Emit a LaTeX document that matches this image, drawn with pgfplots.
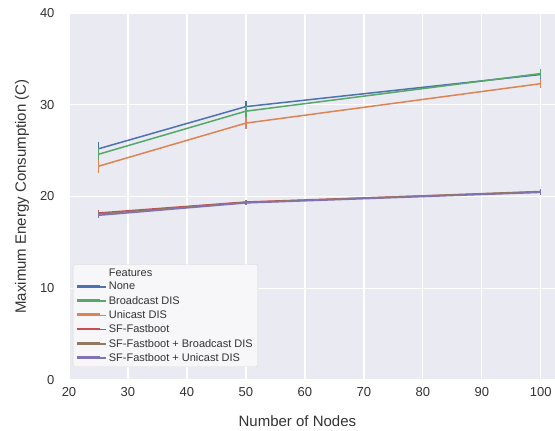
\documentclass[border=0pt]{standalone}
\usepackage{fontspec}
\setmainfont{Liberation Sans}
\usepackage{pgfplots}
\pgfplotsset{compat=1.18}
\definecolor{bg}{HTML}{EAEAF2}
\definecolor{cblue}{HTML}{4C72B0}
\definecolor{cgreen}{HTML}{55A868}
\definecolor{corange}{HTML}{DD8452}
\definecolor{cred}{HTML}{C44E52}
\definecolor{cbrown}{HTML}{937860}
\definecolor{cpurple}{HTML}{8172B3}
\begin{document}
\begin{tikzpicture}[x=1pt,y=1pt]
\begin{axis}[
  at={(0,0)}, anchor=south west, scale only axis,
  width=486pt, height=367pt,
  xmin=20, xmax=102.4, ymin=0, ymax=40,
  axis background/.style={fill=bg},
  axis line style={draw=none},
  major tick length=0pt,
  grid=major, grid style={white, line width=1.2pt},
  xtick={20,30,...,100}, ytick={0,10,...,40},
  tick label style={font=\fontsize{13}{13}\selectfont, text=black!80},
  /pgf/number format/assume math mode=true,
  xticklabel style={yshift=-4pt},
  yticklabel style={xshift=-11pt},
  xlabel={Number of Nodes},
  ylabel={Maximum Energy Consumption (C)},
  every axis x label/.style={at={(axis description cs:0.47,0)}, yshift=-41pt, anchor=center, font=\fontsize{15}{15}\selectfont, text=black!80},
  every axis y label/.style={at={(axis description cs:0,0.5)}, xshift=-47pt, rotate=90, anchor=center, font=\fontsize{15}{15}\selectfont, text=black!80},
  legend cell align=left,
  legend style={at={(4pt,13pt)}, anchor=south west, font=\fontsize{11}{12}\selectfont, text=black!80, draw=black!15, fill=white!60!bg, rounded corners=2pt, row sep=0.8pt, inner xsep=3pt, inner ysep=2pt},
  legend image code/.code={\path (0pt,0pt) -- (29pt,0pt); \draw[#1, line width=1.8pt] (0pt,1pt) -- (23pt,1pt);},
  every axis plot/.append style={line width=1.5pt},
  error bars/error bar style={line width=1.3pt},
]
\addlegendimage{empty legend}
\addlegendentry{Features}
\addlegendimage{cblue}\addlegendentry{None}
\addlegendimage{cgreen}\addlegendentry{Broadcast DIS}
\addlegendimage{corange}\addlegendentry{Unicast DIS}
\addlegendimage{cred}\addlegendentry{SF-Fastboot}
\addlegendimage{cbrown}\addlegendentry{SF-Fastboot + Broadcast DIS}
\addlegendimage{cpurple}\addlegendentry{SF-Fastboot + Unicast DIS}
\addplot[cblue, forget plot, error bars/.cd, y dir=both, y explicit, error mark=none] coordinates {(25,25.2) +- (0,0.7) (50,29.8) +- (0,0.6) (100,33.3) +- (0,0.5)};
\addplot[cgreen, forget plot, error bars/.cd, y dir=both, y explicit, error mark=none] coordinates {(25,24.6) +- (0,0.7) (50,29.3) +- (0,0.6) (100,33.4) +- (0,0.5)};
\addplot[corange, forget plot, error bars/.cd, y dir=both, y explicit, error mark=none] coordinates {(25,23.3) +- (0,0.7) (50,28.0) +- (0,0.65) (100,32.3) +- (0,0.5)};
\addplot[cred, forget plot, error bars/.cd, y dir=both, y explicit, error mark=none] coordinates {(25,18.2) +- (0,0.3) (50,19.4) +- (0,0.25) (100,20.5) +- (0,0.3)};
\addplot[cbrown, forget plot, error bars/.cd, y dir=both, y explicit, error mark=none] coordinates {(25,18.1) +- (0,0.3) (50,19.35) +- (0,0.25) (100,20.55) +- (0,0.3)};
\addplot[cpurple, forget plot, error bars/.cd, y dir=both, y explicit, error mark=none] coordinates {(25,17.95) +- (0,0.3) (50,19.3) +- (0,0.25) (100,20.45) +- (0,0.3)};
\end{axis}
\pgfresetboundingbox
\path[use as bounding box] (-69pt,-51pt) rectangle (486pt,380pt);
\end{tikzpicture}
\end{document}
